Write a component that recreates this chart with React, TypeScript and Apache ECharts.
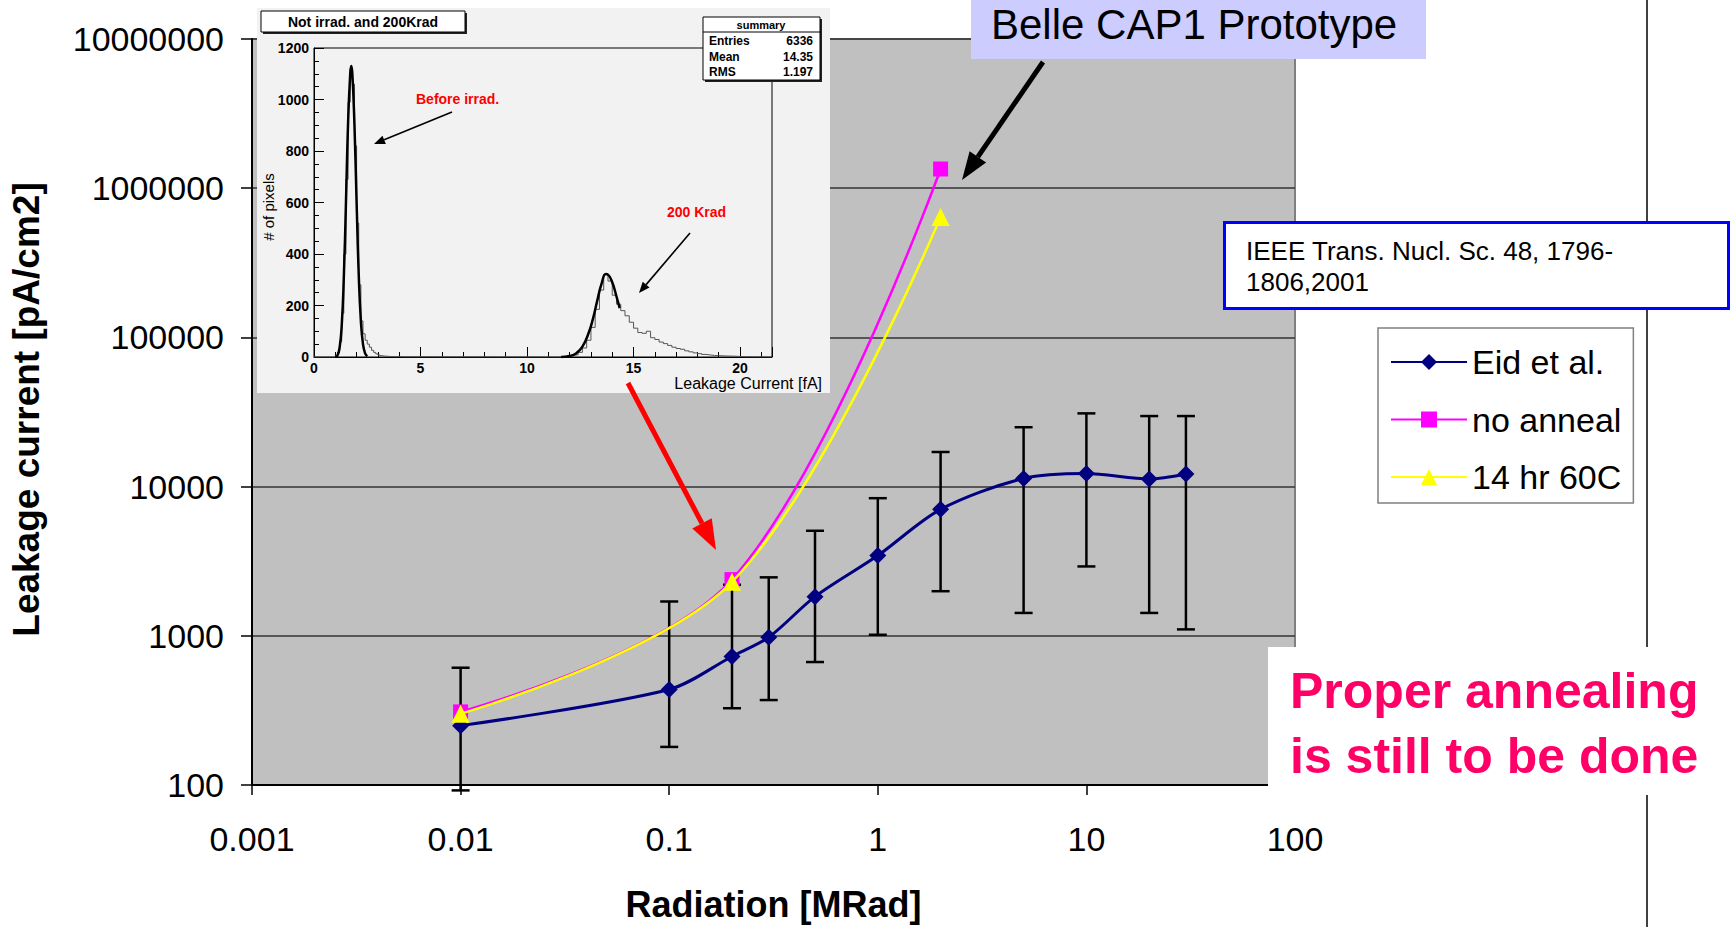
import React, { useEffect, useRef } from 'react';
import * as echarts from 'echarts';

const FONT = "'Liberation Sans', Arial, Helvetica, sans-serif";

// ---- main chart axes ----
const xTickLabels = ['0.001', '0.01', '0.1', '1', '10', '100'];
const yTickLabels = ['100', '1000', '10000', '100000', '1000000', '10000000'];

// ---- main chart series ----
const seriesNames = ['Eid et al.', 'no anneal', '14 hr 60C'];

const eidRadiation = [0.01, 0.1, 0.2, 0.3, 0.5, 1, 2, 5, 10, 20, 30];
const eidCurrent = [250, 437, 727, 977, 1830, 3450, 7040, 11350, 12250, 11240, 12140];
const eidErrLow = [92, 180, 327, 371, 667, 1016, 1990, 1423, 2917, 1423, 1104];
const eidErrHigh = [611, 1698, 2200, 2465, 5057, 8363, 17060, 25000, 30960, 29700, 29700];

const noAnnealRadiation = [0.01, 0.2, 2];
const noAnnealCurrent = [309, 2380, 1345000];

const annealRadiation = [0.01, 0.2, 2];
const annealCurrent = [300, 2300, 641000];

// ---- inset histogram (leakage current [fA], # of pixels) ----
const histBins: number[][] = [
  [0, 0], [0.9, 0], [1.0, 4], [1.1, 18], [1.2, 60], [1.3, 170], [1.4, 400], [1.5, 690], [1.6, 990],
  [1.7, 1120], [1.8, 1060], [1.9, 820], [2.0, 520], [2.1, 280], [2.2, 140], [2.3, 90], [2.4, 65],
  [2.5, 50], [2.6, 38], [2.7, 26], [2.8, 18], [2.9, 12], [3.0, 8], [3.1, 5], [3.2, 4], [3.3, 3],
  [3.4, 2], [3.6, 1], [3.8, 2], [4.0, 1], [4.2, 0],
  [11.4, 0], [11.6, 1], [11.8, 2], [12.0, 4], [12.2, 8], [12.4, 18], [12.6, 35], [12.8, 65],
  [13.0, 115], [13.2, 185], [13.4, 260], [13.6, 320], [13.8, 295], [14.0, 240], [14.2, 205],
  [14.4, 180], [14.6, 160], [14.8, 135], [15.0, 112], [15.2, 95], [15.4, 92], [15.6, 100],
  [15.8, 75], [16.0, 68], [16.2, 58], [16.4, 52], [16.6, 45], [16.8, 38], [17.0, 33], [17.2, 30],
  [17.4, 24], [17.6, 20], [17.8, 16], [18.0, 13], [18.2, 10], [18.4, 8], [18.6, 6], [18.8, 5],
  [19.0, 4], [19.4, 3], [19.8, 1], [20.2, 0], [21.5, 0],
];
const fitBefore: number[][] = [
  [1.0, 0], [1.1, 6], [1.2, 35], [1.3, 120], [1.4, 310], [1.5, 600], [1.6, 910], [1.7, 1100],
  [1.75, 1130], [1.8, 1100], [1.9, 900], [2.0, 600], [2.1, 320], [2.2, 140], [2.3, 50], [2.4, 14], [2.5, 3],
];
const fitAfter: number[][] = [
  [11.6, 0], [12.0, 4], [12.3, 14], [12.6, 40], [12.9, 95], [13.1, 150], [13.3, 220], [13.5, 285],
  [13.7, 322], [13.8, 320], [14.0, 290], [14.2, 235], [14.35, 190],
];
const summaryRows = [['Entries', '6336'], ['Mean', '14.35'], ['RMS', '1.197']];

const X_MIN = Number(xTickLabels[0]);
const X_MAX = Number(xTickLabels[xTickLabels.length - 1]);
const Y_MIN = Number(yTickLabels[0]);
const Y_MAX = Number(yTickLabels[yTickLabels.length - 1]);

function arrow(x1: number, y1: number, x2: number, y2: number, color: string, width: number, headLen: number, headHalf: number, z: number) {
  const ang = Math.atan2(y2 - y1, x2 - x1);
  const bx = x2 - headLen * Math.cos(ang);
  const by = y2 - headLen * Math.sin(ang);
  const px = -Math.sin(ang) * headHalf;
  const py = Math.cos(ang) * headHalf;
  return [
    { type: 'line', z, shape: { x1, y1, x2: bx, y2: by }, style: { stroke: color, lineWidth: width } },
    { type: 'polygon', z, shape: { points: [[x2, y2], [bx + px, by + py], [bx - px, by - py]] }, style: { fill: color } },
  ];
}

function buildOption(): any {
  const graphics: any[] = [
    // inset background
    { type: 'rect', z: 1, shape: { x: 257, y: 8, width: 573, height: 385 }, style: { fill: '#F2F2F2' } },
    // inset title box
    { type: 'rect', z: 6, shape: { x: 263, y: 13, width: 204, height: 21 }, style: { fill: '#222' } },
    { type: 'rect', z: 6, shape: { x: 261, y: 11, width: 204, height: 21 }, style: { fill: '#fff', stroke: '#000', lineWidth: 1 } },
    { type: 'text', z: 7, x: 363, y: 22, style: { text: 'Not irrad. and 200Krad', font: `bold 14px ${FONT}`, fill: '#000', align: 'center', verticalAlign: 'middle' } },
    // summary box
    { type: 'rect', z: 6, shape: { x: 705, y: 19, width: 117, height: 63 }, style: { fill: '#222' } },
    { type: 'rect', z: 6, shape: { x: 703, y: 17, width: 117, height: 63 }, style: { fill: '#fff', stroke: '#000', lineWidth: 1 } },
    { type: 'line', z: 7, shape: { x1: 703, y1: 32, x2: 820, y2: 32 }, style: { stroke: '#000', lineWidth: 1 } },
    { type: 'text', z: 7, x: 761, y: 25, style: { text: 'summary', font: `bold 11px ${FONT}`, fill: '#000', align: 'center', verticalAlign: 'middle' } },
    // inset annotations
    { type: 'text', z: 7, x: 416, y: 99, style: { text: 'Before irrad.', font: `bold 14px ${FONT}`, fill: '#FF0000', align: 'left', verticalAlign: 'middle' } },
    { type: 'text', z: 7, x: 667, y: 212, style: { text: '200 Krad', font: `bold 14px ${FONT}`, fill: '#FF0000', align: 'left', verticalAlign: 'middle' } },
    ...arrow(452, 112, 374, 144, '#000', 1.6, 11, 4.5, 7),
    ...arrow(690, 233, 639, 293, '#000', 1.6, 11, 4.5, 7),
    { type: 'text', z: 7, x: 268, y: 207, rotation: Math.PI / 2, style: { text: '# of pixels', font: `15px ${FONT}`, fill: '#000', align: 'center', verticalAlign: 'middle' } },
    { type: 'text', z: 7, x: 822, y: 383, style: { text: 'Leakage Current [fA]', font: `16px ${FONT}`, fill: '#000', align: 'right', verticalAlign: 'middle' } },
    // red arrow
    ...arrow(628, 383, 716, 550, '#FF0000', 5, 30, 11, 12),
    // right slide line
    { type: 'line', z: 5, shape: { x1: 1647, y1: 0, x2: 1647, y2: 927 }, style: { stroke: '#404040', lineWidth: 2 } },
    // Belle box
    { type: 'rect', z: 12, shape: { x: 971, y: -2, width: 455, height: 61 }, style: { fill: '#CCCCFF' } },
    { type: 'text', z: 13, x: 991, y: 24, style: { text: 'Belle CAP1 Prototype', font: `42px ${FONT}`, fill: '#000', align: 'left', verticalAlign: 'middle' } },
    ...arrow(1043, 62, 962, 180, '#000', 5, 28, 10, 12),
    // IEEE box
    { type: 'rect', z: 12, shape: { x: 1224.5, y: 222.5, width: 504, height: 86 }, style: { fill: '#fff', stroke: '#0000FF', lineWidth: 3 } },
    { type: 'text', z: 13, x: 1246, y: 251, style: { text: 'IEEE Trans. Nucl. Sc. 48, 1796-', font: `26px ${FONT}`, fill: '#000', align: 'left', verticalAlign: 'middle' } },
    { type: 'text', z: 13, x: 1246, y: 282, style: { text: '1806,2001', font: `26px ${FONT}`, fill: '#000', align: 'left', verticalAlign: 'middle' } },
    // Proper annealing box
    { type: 'rect', z: 12, shape: { x: 1268, y: 647, width: 463, height: 148 }, style: { fill: '#fff' } },
    { type: 'text', z: 13, x: 1290, y: 691, style: { text: 'Proper annealing', font: `bold 50px ${FONT}`, fill: '#FF0066', align: 'left', verticalAlign: 'middle' } },
    { type: 'text', z: 13, x: 1290, y: 756, style: { text: 'is still to be done', font: `bold 50px ${FONT}`, fill: '#FF0066', align: 'left', verticalAlign: 'middle' } },
  ];
  summaryRows.forEach((row, i) => {
    const y = 41 + i * 15.5;
    graphics.push({ type: 'text', z: 7, x: 709, y, style: { text: row[0], font: `bold 12px ${FONT}`, fill: '#000', align: 'left', verticalAlign: 'middle' } });
    graphics.push({ type: 'text', z: 7, x: 813, y, style: { text: row[1], font: `bold 12px ${FONT}`, fill: '#000', align: 'right', verticalAlign: 'middle' } });
  });

  const logLabel = (labels: string[], min: number) => (v: number) => {
    const idx = Math.round(Math.log10(v / min));
    return labels[idx] ?? '';
  };

  return {
    animation: false,
    backgroundColor: '#fff',
    textStyle: { fontFamily: FONT },
    grid: [
      { left: 251, right: 1731 - 1295, top: 39, bottom: 927 - 793, show: true, backgroundColor: '#C0C0C0', borderColor: '#808080', borderWidth: 2, z: 0 },
      { left: 314, right: 1731 - 772, top: 48, bottom: 927 - 357, show: true, backgroundColor: 'transparent', borderColor: '#000', borderWidth: 1, z: 3 },
    ],
    legend: {
      data: seriesNames,
      orient: 'vertical',
      left: 1378,
      top: 328,
      backgroundColor: '#fff',
      borderColor: '#808080',
      borderWidth: 1.5,
      padding: [14, 12, 6, 12],
      itemGap: 17.5,
      itemWidth: 76,
      itemHeight: 20,
      textStyle: { fontSize: 34, color: '#000', fontFamily: FONT, lineHeight: 40 },
      selectedMode: false,
    },
    xAxis: [
      {
        type: 'log', logBase: 10, min: X_MIN, max: X_MAX, gridIndex: 0,
        axisLine: { show: true, lineStyle: { color: '#000', width: 2 } },
        axisTick: { show: true, length: 10, lineStyle: { color: '#000', width: 1.5 } },
        axisLabel: { fontSize: 34, color: '#000', margin: 37, fontFamily: FONT, formatter: logLabel(xTickLabels, X_MIN) },
        splitLine: { show: false },
        minorTick: { show: false },
        name: 'Radiation [MRad]', nameLocation: 'middle', nameGap: 101,
        nameTextStyle: { fontSize: 36, fontWeight: 'bold', color: '#000', fontFamily: FONT },
      },
      {
        type: 'value', min: 0, max: 21.5, interval: 5, gridIndex: 1, z: 3,
        axisLine: { show: true, onZero: false, lineStyle: { color: '#000', width: 1 } },
        axisTick: { show: true, inside: true, length: 10, lineStyle: { color: '#000', width: 1 } },
        minorTick: { show: true, splitNumber: 5, length: 5, lineStyle: { color: '#000', width: 1 } },
        axisLabel: { fontSize: 14, fontWeight: 'bold', color: '#000', margin: 4, fontFamily: FONT, showMaxLabel: false, formatter: (v: number) => (v % 5 === 0 ? String(v) : '') },
        splitLine: { show: false },
      },
    ],
    yAxis: [
      {
        type: 'log', logBase: 10, min: Y_MIN, max: Y_MAX, gridIndex: 0,
        axisLine: { show: true, lineStyle: { color: '#000', width: 2 } },
        axisTick: { show: true, length: 11, lineStyle: { color: '#000', width: 1.5 } },
        axisLabel: { fontSize: 34, color: '#000', margin: 28, fontFamily: FONT, formatter: logLabel(yTickLabels, Y_MIN) },
        splitLine: { show: true, lineStyle: { color: '#333', width: 1.5 } },
        minorTick: { show: false },
        name: 'Leakage current [pA/cm2]', nameLocation: 'middle', nameGap: 207,
        nameTextStyle: { fontSize: 37, fontWeight: 'bold', color: '#000', fontFamily: FONT, padding: [0, 0, 0, 5] },
      },
      {
        type: 'value', min: 0, max: 1200, interval: 200, gridIndex: 1, z: 3,
        axisLine: { show: true, onZero: false, lineStyle: { color: '#000', width: 1 } },
        axisTick: { show: true, inside: true, length: 10, lineStyle: { color: '#000', width: 1 } },
        minorTick: { show: true, splitNumber: 4, length: 5, lineStyle: { color: '#000', width: 1 } },
        axisLabel: { fontSize: 14, fontWeight: 'bold', color: '#000', margin: 5, fontFamily: FONT, formatter: (v: number) => String(v) },
        splitLine: { show: false },
      },
    ],
    series: [
      {
        name: 'error bars',
        type: 'custom',
        xAxisIndex: 0, yAxisIndex: 0,
        z: 2,
        clip: false,
        encode: { x: 0, y: [1, 2] },
        data: eidRadiation.map((x, i) => [x, eidErrLow[i], eidErrHigh[i]]),
        renderItem: (params: any, api: any) => {
          const x = api.value(0);
          const lo = api.coord([x, api.value(1)]);
          const hi = api.coord([x, api.value(2)]);
          const cap = 9;
          const style = { stroke: '#000', lineWidth: 2.5 };
          return {
            type: 'group',
            children: [
              { type: 'line', shape: { x1: lo[0], y1: lo[1], x2: hi[0], y2: hi[1] }, style },
              { type: 'line', shape: { x1: lo[0] - cap, y1: lo[1], x2: lo[0] + cap, y2: lo[1] }, style },
              { type: 'line', shape: { x1: hi[0] - cap, y1: hi[1], x2: hi[0] + cap, y2: hi[1] }, style },
            ],
          };
        },
      },
      {
        name: seriesNames[0], type: 'line', xAxisIndex: 0, yAxisIndex: 0, z: 3,
        data: eidRadiation.map((x, i) => [x, eidCurrent[i]]),
        symbol: 'diamond', symbolSize: 17, smooth: 0.3,
        itemStyle: { color: '#000080' }, lineStyle: { color: '#000080', width: 3 },
      },
      {
        name: seriesNames[1], type: 'line', xAxisIndex: 0, yAxisIndex: 0, z: 4,
        data: noAnnealRadiation.map((x, i) => [x, noAnnealCurrent[i]]),
        symbol: 'rect', symbolSize: 15, smooth: 0.35,
        itemStyle: { color: '#FF00FF' }, lineStyle: { color: '#FF00FF', width: 2.5 },
      },
      {
        name: seriesNames[2], type: 'line', xAxisIndex: 0, yAxisIndex: 0, z: 5,
        data: annealRadiation.map((x, i) => [x, annealCurrent[i]]),
        symbol: 'triangle', symbolSize: 18, smooth: 0.35,
        itemStyle: { color: '#FFFF00' }, lineStyle: { color: '#FFFF00', width: 2.5 },
      },
      {
        name: 'histogram', type: 'line', xAxisIndex: 1, yAxisIndex: 1, z: 4,
        data: histBins, step: 'end', symbol: 'none',
        lineStyle: { color: '#555', width: 1 },
      },
      {
        name: 'fit before', type: 'line', xAxisIndex: 1, yAxisIndex: 1, z: 5,
        data: fitBefore, smooth: true, symbol: 'none',
        lineStyle: { color: '#000', width: 2.5 },
      },
      {
        name: 'fit after', type: 'line', xAxisIndex: 1, yAxisIndex: 1, z: 5,
        data: fitAfter, smooth: true, symbol: 'none',
        lineStyle: { color: '#000', width: 2.5 },
      },
    ],
    graphic: { elements: graphics },
  };
}

export default function App() {
  const ref = useRef<HTMLDivElement>(null);
  useEffect(() => {
    if (!ref.current) return;
    const chart = echarts.init(ref.current, undefined, { renderer: 'svg' });
    chart.setOption(buildOption());
    return () => chart.dispose();
  }, []);
  return <div ref={ref} style={{ position: 'absolute', left: 0, top: 0, width: 1731, height: 927, background: '#fff' }} />;
}
